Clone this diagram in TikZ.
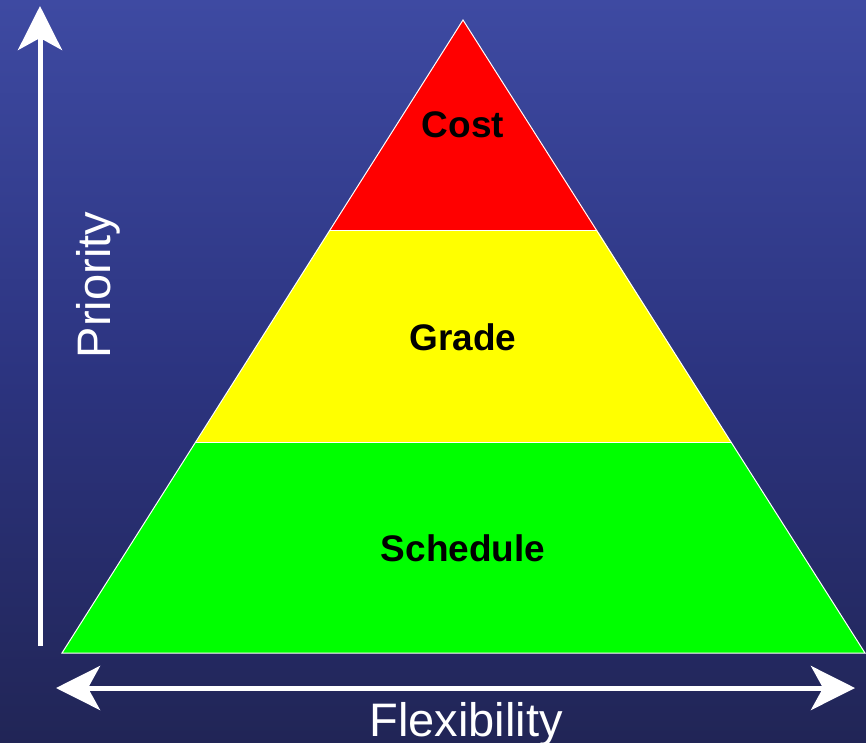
\documentclass[tikz,border=0pt]{standalone}
\usepackage{fontspec}
\setmainfont{Liberation Sans}
\usetikzlibrary{arrows.meta}
\definecolor{seatop}{RGB}{62,74,162}
\definecolor{seamid}{RGB}{44,52,128}
\definecolor{seabot}{RGB}{33,37,86}
\definecolor{tierred}{RGB}{255,0,0}
\definecolor{tieryellow}{RGB}{255,255,0}
\definecolor{tiergreen}{RGB}{0,255,0}
\tikzset{
  tier/.style={draw=white, line width=1pt, line join=miter},
  tierlabel/.style={font=\fontsize{37}{40}\selectfont\bfseries, text=black},
  axislabel/.style={font=\fontsize{47}{50}\selectfont, text=white},
  axisarrow/.style={draw=white, line width=5pt,
    -{Stealth[length=44pt, width=44pt, inset=12pt]}},
  bothways/.style={draw=white, line width=5pt,
    {Stealth[length=44pt, width=44pt, inset=12pt]}-{Stealth[length=44pt, width=44pt, inset=12pt]}}
}
\begin{document}
\begin{tikzpicture}[x=1pt, y=-1pt]
  \useasboundingbox (0,0) rectangle (866,743);
  \clip (0,0) rectangle (866,743);
  % backdrop
  \shade[top color=seatop, bottom color=seabot, middle color=seamid, shading angle=0]
    (0,0) rectangle (866,743);
  % pyramid corners and tier boundaries
  \coordinate (apex) at (463,20);
  \coordinate (bl) at (62,653);
  \coordinate (br) at (865,653);
  \coordinate (rl) at (330,230);
  \coordinate (rr) at (597,230);
  \coordinate (yl) at (196,442);
  \coordinate (yr) at (731,442);
  \fill[tiergreen] (yl) -- (yr) -- (br) -- (bl) -- cycle;
  \fill[tieryellow] (rl) -- (rr) -- (yr) -- (yl) -- cycle;
  \fill[tierred] (apex) -- (rr) -- (rl) -- cycle;
  \draw[tier] (apex) -- (br) -- (bl) -- cycle;
  \draw[tier] (rl) -- (rr);
  \draw[tier] (yl) -- (yr);
  \node[tierlabel] (cost) at (463,125) {Cost};
  \node[tierlabel] (grade) at (463,337) {Grade};
  \node[tierlabel] (sched) at (463,548) {Schedule};
  % axes
  \coordinate (pbot) at (40,646);
  \coordinate (ptop) at (40,6);
  \draw[axisarrow] (pbot) -- (ptop);
  \coordinate (fleft) at (56,688);
  \coordinate (fright) at (855,688);
  \draw[bothways] (fleft) -- (fright);
  \node[axislabel, rotate=90] (prio) at (98,285) {Priority};
  \node[axislabel, anchor=base] (flex) at (466,736) {Flexibility};
\end{tikzpicture}
\end{document}
